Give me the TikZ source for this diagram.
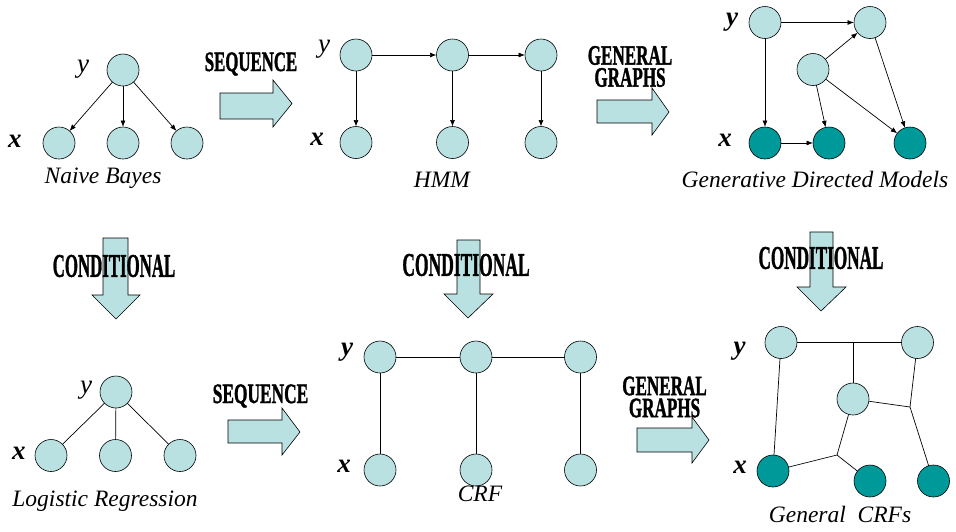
\documentclass[tikz,border=0pt]{standalone}
\usepackage{fontspec}
\usepackage{graphicx}
\setmainfont{Liberation Serif}
\newfontfamily\wafont[BoldFeatures={FakeBold=1.6}]{Liberation Serif}
\usetikzlibrary{arrows.meta}
\definecolor{lightfill}{HTML}{B9E1E1}
\definecolor{darkfill}{HTML}{009999}
\begin{document}
\begin{tikzpicture}[x=1pt,y=-1pt,
  lnode/.style={circle,draw=black,fill=lightfill,minimum size=32pt,inner sep=0pt,outer sep=0pt,line width=0.6pt},
  dnode/.style={lnode,fill=darkfill},
  dirE/.style={line width=0.7pt,-{Latex[length=6.5pt,width=5pt]}},
  undE/.style={line width=0.7pt},
  blockarrow/.style={draw=black,fill=lightfill,line width=0.6pt,line join=miter},
  varlab/.style={font=\fontsize{27}{27}\selectfont\itshape,inner sep=0pt},
  bvarlab/.style={font=\fontsize{27}{27}\selectfont\bfseries\itshape,inner sep=0pt},
  caption/.style={font=\fontsize{23.5}{23.5}\selectfont\itshape,inner sep=0pt},
  wordart/.style={font=\fontsize{28}{22}\selectfont\wafont\bfseries,inner sep=0pt,align=center},
  wordartc/.style={font=\fontsize{33}{33}\selectfont\wafont\bfseries,inner sep=0pt}]
\useasboundingbox (0,0) rectangle (956,531);

% ---------- block arrows (drawn first, text on top) ----------
\filldraw[blockarrow] (220,93) -- (273,93) -- (273,80) -- (292,103.5) -- (273,127) -- (273,119) -- (220,119) -- cycle;
\filldraw[blockarrow] (228,420) -- (282,420) -- (282,408) -- (300,432) -- (282,455) -- (282,443) -- (228,443) -- cycle;
\filldraw[blockarrow] (597,100) -- (652,100) -- (652,88) -- (669,112) -- (652,135) -- (652,123) -- (597,123) -- cycle;
\filldraw[blockarrow] (637,428) -- (692,428) -- (692,417) -- (709,440) -- (692,463) -- (692,452) -- (637,452) -- cycle;
\filldraw[blockarrow] (103,238) -- (128,238) -- (128,295) -- (140,295) -- (116,319) -- (92,295) -- (103,295) -- cycle;
\filldraw[blockarrow] (457,240) -- (480,240) -- (480,294) -- (493,294) -- (468,318) -- (444,294) -- (457,294) -- cycle;
\filldraw[blockarrow] (810,232) -- (833,232) -- (833,287) -- (846,287) -- (821,311) -- (797,287) -- (810,287) -- cycle;

% ---------- word-art labels ----------
\node[wordart] (seqA) at (251,64) {\scalebox{0.6}[1]{SEQUENCE}};
\node[wordart] (seqB) at (260.5,396) {\scalebox{0.62}[1]{SEQUENCE}};
\node[wordart] (genA) at (630,66.5) {\scalebox{0.61}[1]{GENERAL}\\\scalebox{0.61}[1]{GRAPHS}};
\node[wordart] (genB) at (664.5,397) {\scalebox{0.61}[1]{GENERAL}\\\scalebox{0.61}[1]{GRAPHS}};
\node[wordartc] (condA) at (114,266) {\scalebox{0.51}[1]{CONDITIONAL}};
\node[wordartc] (condB) at (466,265) {\scalebox{0.53}[1]{CONDITIONAL}};
\node[wordartc] (condC) at (821,258) {\scalebox{0.52}[1]{CONDITIONAL}};

% ---------- Naive Bayes ----------
\node[lnode] (nby) at (123,70) {};
\node[lnode] (nbx1) at (59,143) {};
\node[lnode] (nbx2) at (123,143) {};
\node[lnode] (nbx3) at (187,143) {};
\draw[dirE] (nby) -- (nbx1);
\draw[dirE] (nby) -- (nbx2);
\draw[dirE] (nby) -- (nbx3);
\node[varlab] (nbyl) at (83,69.5) {y};
\node[bvarlab] (nbxl) at (15,141) {x};
\node[caption] (nbcap) at (103,178) {Naive Bayes};

% ---------- HMM ----------
\node[lnode] (hy1) at (356,55) {};
\node[lnode] (hy2) at (452.5,55) {};
\node[lnode] (hy3) at (541,55) {};
\node[lnode] (hx1) at (356,142.5) {};
\node[lnode] (hx2) at (452.5,142.5) {};
\node[lnode] (hx3) at (541,142.5) {};
\draw[dirE] (hy1) -- (hy2);
\draw[dirE] (hy2) -- (hy3);
\draw[dirE] (hy1) -- (hx1);
\draw[dirE] (hy2) -- (hx2);
\draw[dirE] (hy3) -- (hx3);
\node[varlab] (hyl) at (324,49) {y};
\node[bvarlab] (hxl) at (317,139) {x};
\node[caption] (hcap) at (442,179.5) {HMM};

% ---------- Generative Directed Models ----------
\node[lnode] (gy1) at (765,22.5) {};
\node[lnode] (gy2) at (870,22.5) {};
\node[lnode] (gy3) at (813,69.5) {};
\node[dnode] (gx1) at (765,143) {};
\node[dnode] (gx2) at (829,143) {};
\node[dnode] (gx3) at (910,143) {};
\draw[dirE] (gy1) -- (gy2);
\draw[dirE] (gy1) -- (gx1);
\draw[dirE] (gy3) -- (gy2);
\draw[dirE] (gy3) -- (gx2);
\draw[dirE] (gy3) -- (gx3);
\draw[dirE] (gy2) -- (gx3);
\draw[dirE] (gx1) -- (gx2);
\node[bvarlab] (gyl) at (732,22.5) {y};
\node[bvarlab] (gxl) at (725,140) {x};
\node[caption] (gcap) at (815,179) {Generative Directed Models};

% ---------- Logistic Regression ----------
\node[lnode] (lry) at (116,392) {};
\node[lnode] (lrx1) at (51,455.5) {};
\node[lnode] (lrx2) at (115.5,455.5) {};
\node[lnode] (lrx3) at (180,455.5) {};
\draw[undE] (lry) -- (lrx1);
\draw[undE] (lry) -- (lrx2);
\draw[undE] (lry) -- (lrx3);
\node[varlab] (lryl) at (86,390) {y};
\node[bvarlab] (lrxl) at (19,453) {x};
\node[caption] (lrcap) at (105,501) {Logistic Regression};

% ---------- CRF ----------
\node[lnode] (cy1) at (380,357) {};
\node[lnode] (cy2) at (476,357) {};
\node[lnode] (cy3) at (580.5,357) {};
\node[lnode] (cx1) at (380,470) {};
\node[lnode] (cx2) at (476,470) {};
\node[lnode] (cx3) at (580.5,470) {};
\draw[undE] (cy1) -- (cy2);
\draw[undE] (cy2) -- (cy3);
\draw[undE] (cy1) -- (cx1);
\draw[undE] (cy2) -- (cx2);
\draw[undE] (cy3) -- (cx3);
\node[bvarlab] (cyl) at (347,352) {y};
\node[bvarlab] (cxl) at (344,466) {x};
\node[caption] (ccap) at (480,494) {CRF};

% ---------- General CRFs ----------
\node[lnode] (ky1) at (781,342.5) {};
\node[lnode] (ky2) at (917.5,342.5) {};
\node[lnode] (ky3) at (853,399) {};
\node[dnode] (kx1) at (773,471) {};
\node[dnode] (kx2) at (870,481) {};
\node[dnode] (kx3) at (933.5,481) {};
\coordinate (j1) at (853,342.5);
\coordinate (j2) at (910,407);
\coordinate (j3) at (837,455);
\draw[undE] (ky1) -- (ky2);
\draw[undE] (j1) -- (ky3);
\draw[undE] (ky2) -- (j2);
\draw[undE] (ky3) -- (j2);
\draw[undE] (j2) -- (kx3);
\draw[undE] (ky3) -- (j3);
\draw[undE] (kx1) -- (j3);
\draw[undE] (j3) -- (kx2);
\draw[undE] (ky1) -- (kx1);
\node[bvarlab] (kyl) at (739.5,351) {y};
\node[bvarlab] (kxl) at (740,467) {x};
\node[caption] (kcap) at (840,514) {General\ \ CRFs};
\end{tikzpicture}
\end{document}
